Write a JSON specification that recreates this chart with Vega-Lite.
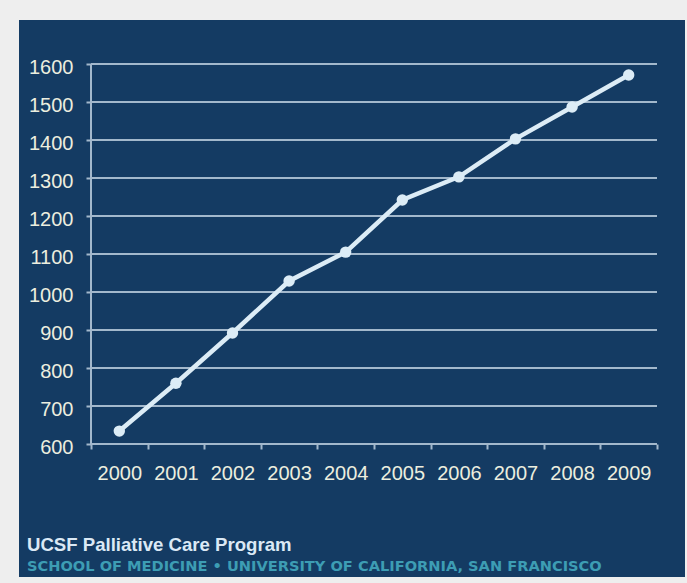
{
  "$schema": "https://vega.github.io/schema/vega-lite/v6.json",
  "width": 666,
  "height": 557,
  "autosize": {"type": "none"},
  "padding": {"left": 19, "top": 20, "right": 2, "bottom": 6},
  "background": "#eeeeee",
  "config": {
    "view": {"fill": "#143b63", "stroke": null},
    "font": "Liberation Sans"
  },
  "title": {
    "text": "UCSF Palliative Care Program",
    "subtitle": "SCHOOL OF MEDICINE • UNIVERSITY OF CALIFORNIA, SAN FRANCISCO",
    "orient": "bottom",
    "anchor": "start",
    "frame": "group",
    "offset": -41,
    "dx": 8,
    "font": "Liberation Sans",
    "fontSize": 18.6,
    "fontWeight": "bold",
    "color": "#dbe9f5",
    "subtitleFont": "DejaVu Sans",
    "subtitleFontWeight": "bold",
    "subtitleFontSize": 14.6,
    "subtitleColor": "#3d9db4",
    "subtitlePadding": 4
  },
  "layer": [
    {
      "data": {"values": [
        {"v": 600}, {"v": 700}, {"v": 800}, {"v": 900}, {"v": 1000}, {"v": 1100},
        {"v": 1200}, {"v": 1300}, {"v": 1400}, {"v": 1500}, {"v": 1600}
      ]},
      "mark": {"type": "rule", "color": "#a3b8cc", "strokeWidth": 2},
      "encoding": {
        "x": {"datum": 1999.5, "type": "quantitative"},
        "x2": {"datum": 2009.5},
        "y": {"field": "v", "type": "quantitative"}
      }
    },
    {
      "data": {"values": [{"a": 1}]},
      "mark": {"type": "rule", "color": "#a3b8cc", "strokeWidth": 2},
      "encoding": {
        "x": {"datum": 1999.5, "type": "quantitative"},
        "y": {"datum": 600, "type": "quantitative"},
        "y2": {"datum": 1600}
      }
    },
    {
      "data": {"values": [
        {"year": 2000, "value": 634},
        {"year": 2001, "value": 760},
        {"year": 2002, "value": 892},
        {"year": 2003, "value": 1029},
        {"year": 2004, "value": 1105},
        {"year": 2005, "value": 1242},
        {"year": 2006, "value": 1303},
        {"year": 2007, "value": 1403},
        {"year": 2008, "value": 1487},
        {"year": 2009, "value": 1571}
      ]},
      "mark": {"type": "line", "color": "#dcecf6", "strokeWidth": 4.5, "point": {"filled": true, "size": 130, "color": "#dcecf6", "opacity": 1}},
      "encoding": {
        "x": {
          "field": "year",
          "type": "quantitative",
          "scale": {"domain": [1998.2279, 2009.9947], "nice": false, "zero": false},
          "axis": {
            "title": null,
            "values": [1999.5, 2000.5, 2001.5, 2002.5, 2003.5, 2004.5, 2005.5, 2006.5, 2007.5, 2008.5, 2009.5],
            "labelExpr": "datum.value < 2009 ? format(datum.value + 0.5, 'd') : ''",
            "labelOffset": 28.3,
            "labelFlush": false,
            "labelOverlap": false,
            "labelPadding": 14,
            "labelFontSize": 20,
            "labelColor": "#eceedf",
            "tickSize": 5,
            "tickWidth": 2,
            "tickColor": "#a3b8cc",
            "domain": false,
            "grid": false,
            "offset": -133
          }
        },
        "y": {
          "field": "value",
          "type": "quantitative",
          "scale": {"domain": [250, 1715.79], "nice": false, "zero": false},
          "axis": {
            "title": null,
            "values": [600, 700, 800, 900, 1000, 1100, 1200, 1300, 1400, 1500, 1600],
            "format": "d",
            "labelPadding": 13,
            "labelFontSize": 20,
            "labelColor": "#eceedf",
            "labelOffset": 3,
            "labelOverlap": false,
            "labelFlush": false,
            "tickSize": 5,
            "tickWidth": 2,
            "tickColor": "#a3b8cc",
            "domain": false,
            "grid": false,
            "offset": -72
          }
        }
      }
    }
  ]
}
